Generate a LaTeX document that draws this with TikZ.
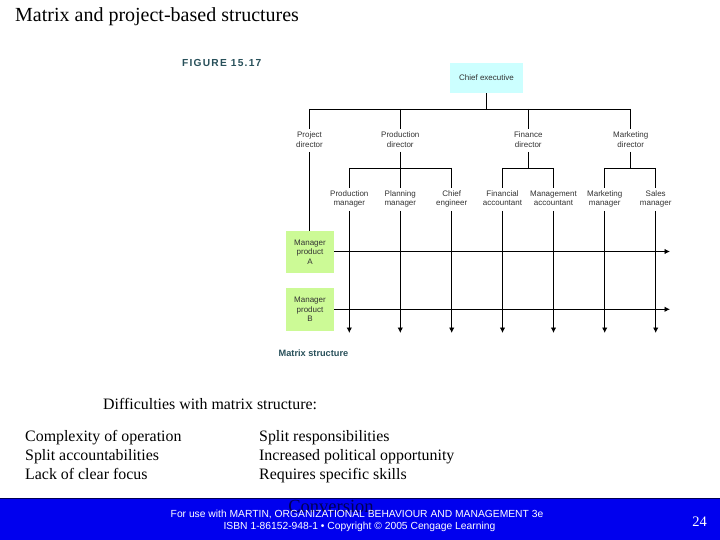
\documentclass[tikz,border=0pt]{standalone}
\usepackage{fontspec}
\setmainfont{Liberation Serif}
\setsansfont{Liberation Sans}
\usetikzlibrary{arrows.meta}
\definecolor{footblue}{RGB}{0,0,238}
\definecolor{chiefcyan}{RGB}{204,255,255}
\definecolor{mgrgreen}{RGB}{204,250,150}
\definecolor{figteal}{RGB}{40,80,90}
\definecolor{convnavy}{RGB}{0,0,85}
\tikzset{
  x=1pt,y=-1pt,
  orgline/.style={line width=0.95pt,black},
  downarrow/.style={orgline,-{Latex[length=5.5pt,width=5.5pt]}},
  orglabel/.style={font=\sffamily\fontsize{8}{9.6}\selectfont,align=center,inner sep=0pt,text=black!80},
  bodytext/.style={font=\rmfamily\fontsize{15.9}{19}\selectfont,align=left,anchor=west,inner sep=0pt},
  chiefbox/.style={fill=chiefcyan,minimum width=73pt,minimum height=30pt,inner sep=0pt},
  mgrbox/.style={fill=mgrgreen,minimum width=48pt,minimum height=42.5pt,inner sep=0pt},
  capt/.style={font=\sffamily\bfseries\fontsize{9.2}{10}\selectfont,text=figteal,inner sep=0pt,anchor=west},
}
\begin{document}
\begin{tikzpicture}
\useasboundingbox (0,0) rectangle (720,540);
\fill[white] (0,0) rectangle (720,540);
\node[anchor=west,inner sep=0pt,font=\rmfamily\fontsize{20}{22}\selectfont] (title) at (15,17) {Matrix and project-based structures};
\node[capt,font=\sffamily\bfseries\fontsize{10.2}{11}\selectfont\addfontfeature{LetterSpace=12},text=figteal] (figlabel) at (182,63) {FIGURE 15.17};
\node[chiefbox] (chief) at (486.5,78) {\sffamily\fontsize{8}{9.6}\selectfont\color{black!80}Chief executive};
\coordinate (bus) at (486.5,109);
\node[orglabel] (pd) at (309.5,139.5) {Project\\director};
\node[orglabel] (prd) at (400.3,139.5) {Production\\director};
\node[orglabel] (fd) at (528.3,139.5) {Finance\\director};
\node[orglabel] (md) at (630.7,139.5) {Marketing\\director};
\node[orglabel] (m1) at (349.3,199) {Production\\manager};
\node[orglabel] (m2) at (400.3,199) {Planning\\manager};
\node[orglabel] (m3) at (451.7,199) {Chief\\engineer};
\node[orglabel] (m4) at (502.5,198.1) {Financial\\accountant};
\node[orglabel] (m5) at (553.5,198.1) {Management\\accountant};
\node[orglabel] (m6) at (604.7,199) {Marketing\\manager};
\node[orglabel] (m7) at (655.7,199) {Sales\\manager};
\node[mgrbox] (a) at (310,252) {};
\node[orglabel] at (a) {Manager\\product\\A};
\node[mgrbox] (b) at (310,309.5) {};
\node[orglabel] at (b) {Manager\\product\\B};
\node[capt] (matrix) at (278.5,353) {Matrix structure};
% top tree
\draw[orgline] (chief.south) -- (chief.south |- bus);
\coordinate (tl) at (309.5,109);
\coordinate (tr) at (630.7,109);
\draw[orgline] (tl) -- (tr);
\foreach \n/\yy in {pd/129.5,prd/129.5,fd/129.5,md/129.5}{\draw[orgline] (\n |- tl) -- (\n |- 0,\yy);}
\coordinate (pdb) at (309.5,152);
\draw[orgline] (pdb) -- (a.north -| pdb);
% groups
\coordinate (g1) at (349.3,168);
\coordinate (g2) at (451.7,168);
\coordinate (g3) at (502.5,168);
\coordinate (g4) at (553.5,168);
\coordinate (g5) at (604.7,168);
\coordinate (g6) at (655.7,168);
\draw[orgline] (g1) -- (g2);
\draw[orgline] (g3) -- (g4);
\draw[orgline] (g5) -- (g6);
\foreach \n in {prd,fd,md}{\draw[orgline] (\n |- pdb) -- (\n |- g1);}
\foreach \n in {m1,m2,m3,m4,m5,m6,m7}{
  \draw[orgline] (\n |- g1) -- (\n |- 0,188);
  \draw[downarrow] (\n |- 0,211) -- (\n |- 0,333);
}
% horizontal matrix lines
\coordinate (ra) at (670,251.5);
\coordinate (rb) at (670,309.3);
\draw[downarrow] (a.east |- ra) -- (ra);
\draw[downarrow] (b.east |- rb) -- (rb);
% lower text
\node[bodytext] (diff) at (103,404) {Difficulties with matrix structure:};
\node[bodytext,anchor=north west] (left) at (25,430) {Complexity of operation\\Split accountabilities\\Lack of clear focus};
\node[bodytext,anchor=north west] (right) at (259,430) {Split responsibilities\\Increased political opportunity\\Requires specific skills};
% footer
\fill[footblue] (0,498) rectangle (720,540);
\draw[convnavy,line width=1.2pt] (0,498.6) -- (720,498.6);
\node[inner sep=0pt,font=\rmfamily\fontsize{18.5}{20}\selectfont,text=convnavy] (conv) at (331,506) {Conversion};
\node[inner sep=0pt,font=\sffamily\fontsize{10.3}{12}\selectfont,text=white,align=center] (foot) at (357,521) {For use with MARTIN, ORGANIZATIONAL BEHAVIOUR AND MANAGEMENT 3e\\\hspace*{5pt}ISBN 1-86152-948-1 \textbullet\ Copyright © 2005 Cengage Learning};
\node[inner sep=0pt,font=\rmfamily\fontsize{14.5}{16}\selectfont,text=white] (pg) at (699.5,522) {24};
\end{tikzpicture}
\end{document}
